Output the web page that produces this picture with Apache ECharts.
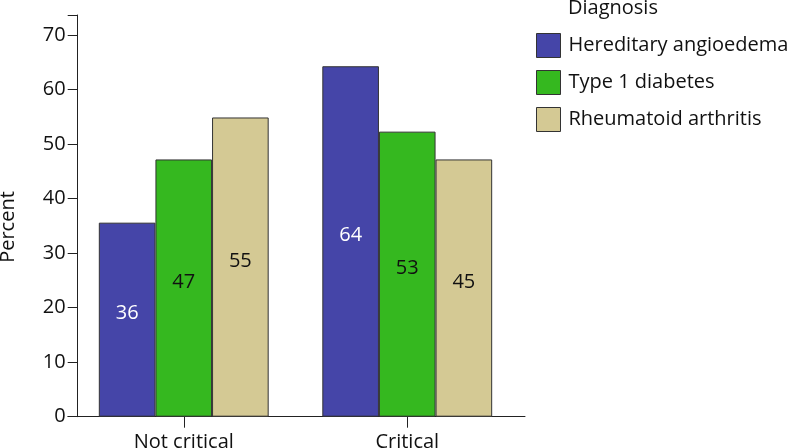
<!DOCTYPE html>
<html>
<head>
<meta charset="utf-8">
<script src="https://cdn.jsdelivr.net/npm/echarts@6/dist/echarts.min.js"></script>
<style>html,body{margin:0;padding:0;background:#fff;}#c{width:787px;height:448px;}</style>
</head>
<body>
<div id="c"></div>
<script>
const categories = ['Not critical', 'Critical'];
const seriesNames = ['Hereditary angioedema', 'Type 1 diabetes', 'Rheumatoid arthritis'];
const hae = [35.6, 64.3];
const t1d = [47.2, 52.3];
const ra = [54.9, 47.2];
const haeLabels = ['36', '64'];
const t1dLabels = ['47', '53'];
const raLabels = ['55', '45'];
const yTicks = [0, 10, 20, 30, 40, 50, 60, 70];

const FONT = 'Open Sans';
const FS = 20;
const colors = ['#4545a8', '#35b81f', '#d4c994'];
const labelColors = ['#ffffff', '#111111', '#111111'];
const values = [hae, t1d, ra];
const labelSets = [haeLabels, t1dLabels, raLabels];

const chart = echarts.init(document.getElementById('c'), null, {renderer: 'canvas'});
const gridTop = 15, gridBottom = 31.3;
chart.setOption({
  animation: false,
  backgroundColor: '#ffffff',
  textStyle: {fontFamily: FONT},
  title: {
    text: 'Diagnosis', left: 568, top: -2, padding: 0,
    textStyle: {fontFamily: FONT, fontSize: FS, fontWeight: 'normal', color: '#111'}
  },
  legend: {
    orient: 'vertical', left: 536, top: 33, itemWidth: 24, itemHeight: 24, itemGap: 12,
    icon: 'rect', padding: 0,
    data: seriesNames,
    itemStyle: {borderColor: '#333', borderWidth: 1},
    textStyle: {fontFamily: FONT, fontSize: FS, color: '#111', padding: [0, 0, 0, 3]}
  },
  graphic: [{
    type: 'text', x: 8, y: 227, rotation: Math.PI / 2,
    style: {text: 'Percent', font: FS + 'px "' + FONT + '"', fill: '#111', textAlign: 'center', textVerticalAlign: 'middle'}
  }],
  grid: [
    {left: 72, right: 787 - 519, top: gridTop, bottom: gridBottom, outerBoundsMode: 'none', containLabel: false},
    {left: 68, right: 787 - 525, top: gridTop, bottom: gridBottom, outerBoundsMode: 'none', containLabel: false}
  ],
  xAxis: [{
    type: 'category', gridIndex: 0, data: categories,
    axisLine: {show: false},
    axisTick: {show: true, alignWithLabel: true, length: 11, lineStyle: {color: '#222', width: 1}},
    axisLabel: {fontFamily: FONT, fontSize: FS, color: '#111', margin: 16}
  }, {
    type: 'value', gridIndex: 1, min: 0, max: 1,
    axisLine: {show: true, lineStyle: {color: '#222', width: 1}},
    axisTick: {show: false}, axisLabel: {show: false}, splitLine: {show: false}
  }],
  yAxis: [{
    type: 'value', gridIndex: 0, min: 0, max: 73.7, interval: 10, offset: -5.7,
    axisLine: {show: true, lineStyle: {color: '#222', width: 1}},
    axisTick: {show: true, length: 10, lineStyle: {color: '#222', width: 1}},
    axisLabel: {fontFamily: FONT, fontSize: FS, color: '#111', margin: 12,
      formatter: v => (yTicks.indexOf(v) >= 0 ? String(v) : '')},
    splitLine: {show: false}
  }, {
    type: 'value', gridIndex: 1, min: 0, max: 1, show: false
  }],
  series: seriesNames.map((name, i) => ({
    name: name, type: 'bar', xAxisIndex: 0, yAxisIndex: 0,
    data: values[i],
    barGap: 0, barCategoryGap: '24%',
    itemStyle: {color: colors[i], borderColor: '#333', borderWidth: 1},
    label: {
      show: true, position: 'inside', offset: [0, -6],
      fontFamily: FONT, fontSize: FS, color: labelColors[i],
      formatter: p => labelSets[i][p.dataIndex]
    }
  }))
});
</script>
</body>
</html>
